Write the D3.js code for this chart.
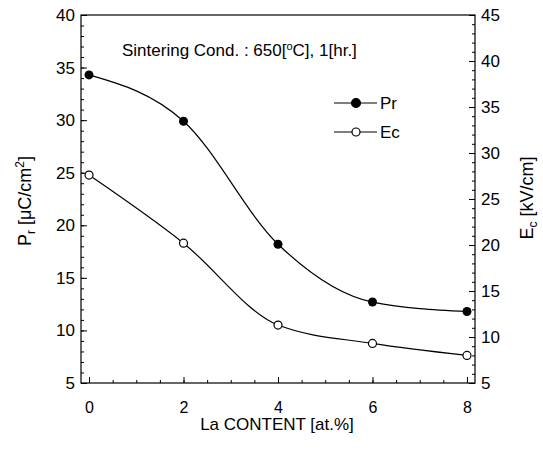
<!DOCTYPE html>
<html>
<head>
<meta charset="utf-8">
<script src="https://cdn.jsdelivr.net/npm/d3@7"></script>
<style>
  body { margin: 0; background: #fff; }
  svg { font-family: "Liberation Sans", Arial, sans-serif; }
</style>
</head>
<body>
<div id="chart"></div>
<script>
// La content (at.%)
const laContent = [0, 2, 4, 6, 8];
// remanent polarization Pr [uC/cm2], left axis
const prValues = [34.3, 29.9, 18.2, 12.7, 11.8];
// coercive field Ec [kV/cm], right axis
const ecValues = [27.6, 20.2, 11.3, 9.3, 8.0];

const xTicks = [0, 2, 4, 6, 8];
const leftTicks = [5, 10, 15, 20, 25, 30, 35, 40];
const rightTicks = [5, 10, 15, 20, 25, 30, 35, 40, 45];

const W = 543, H = 451;
const m = { left: 81, right: 68, top: 15, bottom: 68 };

const svg = d3.select("#chart").append("svg")
    .attr("width", W).attr("height", H);

const x = d3.scaleLinear().domain([-0.17, 8.17]).range([m.left, W - m.right]);
const yL = d3.scaleLinear().domain([5, 40]).range([H - m.bottom, m.top]);
const yR = d3.scaleLinear().domain([5, 45]).range([H - m.bottom, m.top]);

// frame
svg.append("rect")
    .attr("x", m.left).attr("y", m.top)
    .attr("width", W - m.left - m.right)
    .attr("height", H - m.top - m.bottom)
    .attr("fill", "none").attr("stroke", "#000").attr("stroke-width", 1.2);

// axes (ticks pointing inward)
const styleAxis = g => {
    g.select(".domain").remove();
    g.selectAll("text").attr("font-size", 17).attr("fill", "#000");
    g.selectAll("line").attr("stroke", "#000");
};

const leftMinor = d3.range(5, 40.01, 1);
const rightMinor = d3.range(5, 45.01, 1);
const xMinor = d3.range(0, 8.01, 0.5);

svg.append("g").attr("transform", `translate(${m.left},0)`)
    .call(d3.axisRight(yL).tickValues(leftMinor).tickSize(3).tickFormat(""))
    .call(styleAxis);
svg.append("g").attr("transform", `translate(${m.left},0)`)
    .call(d3.axisRight(yL).tickValues(leftTicks).tickSize(6).tickFormat(d3.format("d")))
    .call(styleAxis)
    .call(g => g.selectAll("text").attr("x", -6).attr("text-anchor", "end"));

svg.append("g").attr("transform", `translate(${W - m.right},0)`)
    .call(d3.axisLeft(yR).tickValues(rightMinor).tickSize(3).tickFormat(""))
    .call(styleAxis);
svg.append("g").attr("transform", `translate(${W - m.right},0)`)
    .call(d3.axisLeft(yR).tickValues(rightTicks).tickSize(6).tickFormat(d3.format("d")))
    .call(styleAxis)
    .call(g => g.selectAll("text").attr("x", 6).attr("text-anchor", "start"));

svg.append("g").attr("transform", `translate(0,${H - m.bottom})`)
    .call(d3.axisTop(x).tickValues(xMinor).tickSize(3).tickFormat(""))
    .call(styleAxis);
svg.append("g").attr("transform", `translate(0,${H - m.bottom})`)
    .call(d3.axisTop(x).tickValues(xTicks).tickSize(6).tickFormat(d3.format("d")))
    .call(styleAxis)
    .call(g => g.selectAll("text").attr("font-size", 16).attr("y", 19).attr("dy", "0.71em"));

// curves
const prData = laContent.map((c, i) => ({ x: c, y: prValues[i] }));
const ecData = laContent.map((c, i) => ({ x: c, y: ecValues[i] }));

const lineL = d3.line().x(d => x(d.x)).y(d => yL(d.y)).curve(d3.curveMonotoneX);
const lineR = d3.line().x(d => x(d.x)).y(d => yR(d.y)).curve(d3.curveMonotoneX);

svg.append("path").datum(prData).attr("d", lineL)
    .attr("fill", "none").attr("stroke", "#000").attr("stroke-width", 1.2);
svg.append("path").datum(ecData).attr("d", lineR)
    .attr("fill", "none").attr("stroke", "#000").attr("stroke-width", 1.2);

svg.append("g").selectAll("circle").data(prData).join("circle")
    .attr("cx", d => x(d.x)).attr("cy", d => yL(d.y)).attr("r", 4.5)
    .attr("fill", "#000");
svg.append("g").selectAll("circle").data(ecData).join("circle")
    .attr("cx", d => x(d.x)).attr("cy", d => yR(d.y)).attr("r", 4)
    .attr("fill", "#fff").attr("stroke", "#000").attr("stroke-width", 1.2);

// annotation
svg.append("text").attr("x", 122).attr("y", 56).attr("font-size", 17)
    .html("Sintering Cond. : 650[<tspan dy='-6' font-size='11'>o</tspan><tspan dy='6'>C], 1[hr.]</tspan>");

// legend
const legend = [
    { label: "Pr", filled: true, y: 103 },
    { label: "Ec", filled: false, y: 132 }
];
const lg = svg.append("g");
legend.forEach(l => {
    lg.append("line").attr("x1", 334).attr("x2", 377).attr("y1", l.y).attr("y2", l.y)
        .attr("stroke", "#000").attr("stroke-width", 1.2);
    lg.append("circle").attr("cx", 356).attr("cy", l.y).attr("r", l.filled ? 4.5 : 4)
        .attr("fill", l.filled ? "#000" : "#fff").attr("stroke", "#000").attr("stroke-width", 1.2);
    lg.append("text").attr("x", 380).attr("y", l.y + 6).attr("font-size", 17).text(l.label);
});

// axis titles
svg.append("text").attr("x", 277).attr("y", 430)
    .attr("text-anchor", "middle").attr("font-size", 17).text("La CONTENT [at.%]");

svg.append("text").attr("transform", "translate(31,201) rotate(-90)")
    .attr("text-anchor", "middle").attr("font-size", 18)
    .html("P<tspan dy='4' font-size='12'>r</tspan><tspan dy='-4'> [μC/cm</tspan><tspan dy='-7' font-size='12'>2</tspan><tspan dy='7'>]</tspan>");

svg.append("text").attr("transform", "translate(533,198) rotate(-90)")
    .attr("text-anchor", "middle").attr("font-size", 18)
    .html("E<tspan dy='4' font-size='12'>c</tspan><tspan dy='-4'> [kV/cm]</tspan>");
</script>
</body>
</html>
